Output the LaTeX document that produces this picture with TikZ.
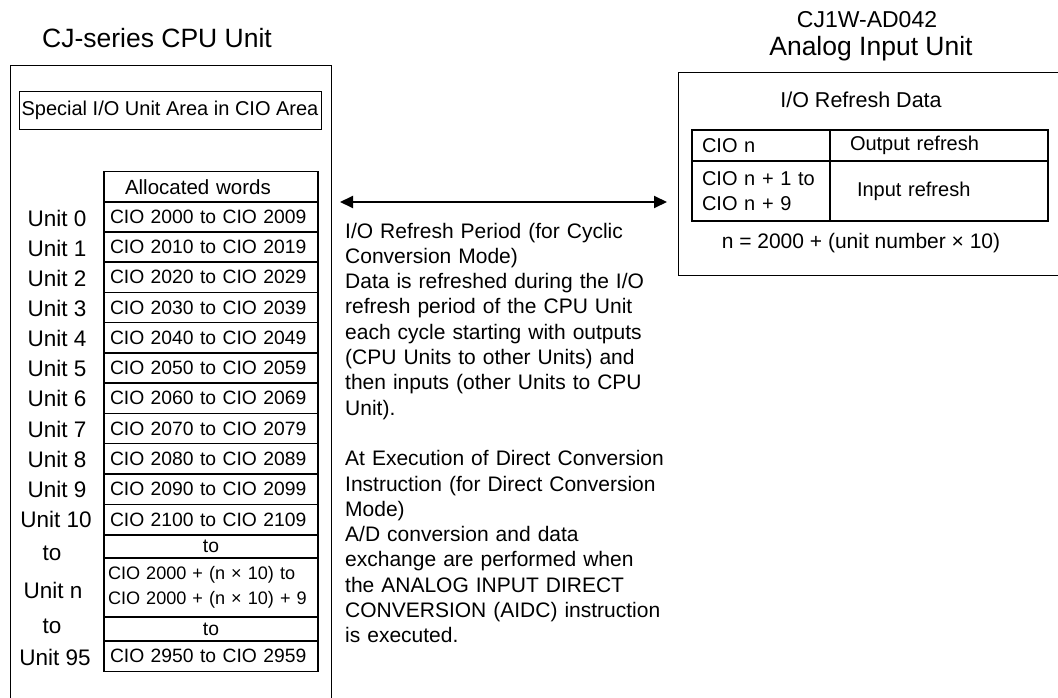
\documentclass[tikz,border=0pt]{standalone}
\usepackage{fontspec}
\setmainfont{Liberation Sans}
\usetikzlibrary{arrows.meta}

\begin{document}
\begin{tikzpicture}[
    x=1pt, y=-1pt,
    >={Triangle[length=13pt, width=12pt]},
    frame/.style={draw, line width=0.9pt, inner sep=0pt},
    title/.style={inner sep=0pt, font=\fontsize{26.5}{30}\selectfont},
    ulabel/.style={inner sep=0pt, anchor=base, font=\fontsize{22.5}{25}\selectfont},
    wcell/.style={draw, line width=1.4pt, inner sep=0pt, inner xsep=6pt, text width=202pt, minimum height=30.5pt, align=left, font=\fontsize{19.3}{25}\selectfont},
    tocell/.style={wcell, align=center},
    rcell/.style={draw, line width=1.4pt, inner sep=0pt, align=left, font=\fontsize{20}{25}\selectfont}
]
\useasboundingbox (0,0) rectangle (1058,698);

% CPU Unit side: outer frame, title, area box
\node[frame, minimum width=321pt, minimum height=660pt] (cpu) at (170.5, 395) {};
\node[title, anchor=base] (cputitle) at (157, 48) {CJ-series CPU Unit};
\node[frame, minimum width=302pt, minimum height=38pt, font=\fontsize{20}{24}\selectfont] (area) at (170, 110) {Special I/O Unit Area in CIO Area};

% Allocated words table
\node[wcell, inner xsep=21pt, text width=172pt, font=\fontsize{20.5}{25}\selectfont] (hdr) at (211, 187) {Allocated words};
\node[wcell] (w0) at (211, 217) {CIO 2000 to CIO 2009};
\node[wcell] (w1) at (211, 247) {CIO 2010 to CIO 2019};
\node[wcell] (w2) at (211, 277) {CIO 2020 to CIO 2029};
\node[wcell] (w3) at (211, 307.5) {CIO 2030 to CIO 2039};
\node[wcell] (w4) at (211, 338) {CIO 2040 to CIO 2049};
\node[wcell] (w5) at (211, 368) {CIO 2050 to CIO 2059};
\node[wcell] (w6) at (211, 398) {CIO 2060 to CIO 2069};
\node[wcell] (w7) at (211, 428.5) {CIO 2070 to CIO 2079};
\node[wcell] (w8) at (211, 459) {CIO 2080 to CIO 2089};
\node[wcell] (w9) at (211, 489) {CIO 2090 to CIO 2099};
\node[wcell] (w10) at (211, 519.5) {CIO 2100 to CIO 2109};
\node[tocell, minimum height=23pt] (wto1) at (211, 546.5) {to};
\node[wcell, inner xsep=4pt, text width=206pt, minimum height=59pt, font=\fontsize{18.1}{25}\selectfont] (wn) at (211, 587.5) {CIO 2000 + (n × 10) to\\CIO 2000 + (n × 10) + 9};
\node[tocell, minimum height=24pt] (wto2) at (211, 629) {to};
\node[wcell] (w95) at (211, 656) {CIO 2950 to CIO 2959};

% Unit numbers beside the table
\node[ulabel] (u0) at (57, 226) {Unit 0};
\node[ulabel] (u1) at (57, 256) {Unit 1};
\node[ulabel] (u2) at (57, 286) {Unit 2};
\node[ulabel] (u3) at (57, 316) {Unit 3};
\node[ulabel] (u4) at (57, 346) {Unit 4};
\node[ulabel] (u5) at (57, 376) {Unit 5};
\node[ulabel] (u6) at (57, 406) {Unit 6};
\node[ulabel] (u7) at (57, 437) {Unit 7};
\node[ulabel] (u8) at (57, 467) {Unit 8};
\node[ulabel] (u9) at (57, 497) {Unit 9};
\node[ulabel] (u10) at (56, 527) {Unit 10};
\node[ulabel] (uto1) at (52, 560) {to};
\node[ulabel] (un) at (53, 598) {Unit n};
\node[ulabel] (uto2) at (52, 633) {to};
\node[ulabel] (u95) at (55, 665) {Unit 95};

% Refresh period arrow and description
\coordinate (refL) at (340, 202);
\coordinate (refR) at (667, 202);
\draw[<->, line width=2pt] (refL) -- (refR);

\node[inner sep=0pt, anchor=base west, text width=330pt, align=left, font=\fontsize{21}{25.3}\selectfont] (desc) at (345, 238) {I/O Refresh Period (for Cyclic\\ Conversion Mode)\\ Data is refreshed during the I/O\\ refresh period of the CPU Unit\\ each cycle starting with outputs\\ (CPU Units to other Units) and\\ then inputs (other Units to CPU\\ Unit).\\[25.3pt] At Execution of Direct Conversion\\ Instruction (for Direct Conversion\\ Mode)\\ A/D conversion and data\\ exchange are performed when\\ the ANALOG INPUT DIRECT\\ CONVERSION (AIDC) instruction\\ is executed.};

% Analog Input Unit side
\node[title, anchor=base, font=\fontsize{23}{26}\selectfont] (model) at (867, 28) {CJ1W-AD042};
\node[title, anchor=base] (aititle) at (871, 56) {Analog Input Unit};
\node[frame, minimum width=400pt, minimum height=203pt] (ai) at (878, 173.5) {};
\node[inner sep=0pt, anchor=base, font=\fontsize{21.5}{25}\selectfont] (iodata) at (861, 108) {I/O Refresh Data};

\node[rcell, inner xsep=10pt, text width=118pt, minimum height=31pt] (cion) at (761, 145.5) {CIO n};
\node[rcell, inner xsep=20pt, text width=178pt, minimum height=31pt] (outref) at (939, 145.5) {Output refresh};
\node[rcell, inner xsep=10pt, text width=118pt, minimum height=60pt] (cionr) at (761, 191) {CIO n + 1 to\\CIO n + 9};
\node[rcell, inner xsep=27pt, text width=164pt, minimum height=60pt] (inref) at (939, 191) {Input refresh};

\node[inner sep=0pt, anchor=base, font=\fontsize{21}{25}\selectfont] (nform) at (861, 248) {n = 2000 + (unit number × 10)};

\end{tikzpicture}
\end{document}
